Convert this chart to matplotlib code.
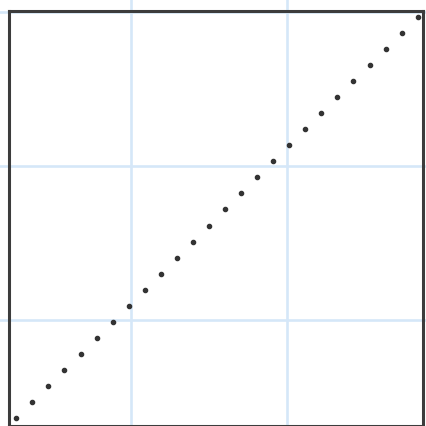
import matplotlib
matplotlib.use("Agg")
import matplotlib.pyplot as plt
import numpy as np

# data
x_values = list(range(26))
y_values = list(range(26))
grid_x = [7.14, 16.86]
grid_y = [6.1, 15.72, 25.33]

fig = plt.figure(figsize=(4.26, 4.26), dpi=100)
W = 426.0
left_px, right_px, top_px, bottom_px = 9.3, 423.0, 11.3, 425.5
ax = fig.add_axes([left_px / W, (W - bottom_px) / W,
                   (right_px - left_px) / W, (bottom_px - top_px) / W])

ax.set_xlim(-0.436, 25.33)
ax.set_ylim(-0.487, 25.375)

grid_color = "#d5e7f8"
for gx in grid_x:
    ax.axvline(gx, ymin=-1, ymax=2, clip_on=False, color=grid_color, lw=1.9, zorder=0)
for gy in grid_y:
    ax.axhline(gy, xmin=-1, xmax=2, clip_on=False, color=grid_color, lw=1.9, zorder=0)

ax.plot(x_values, y_values, linestyle="none", marker="o", markersize=3.0,
        color="#333333", zorder=3)

for s in ax.spines.values():
    s.set_linewidth(2.2)
    s.set_color("#3c3c3c")
    s.set_zorder(5)
ax.set_xticks([])
ax.set_yticks([])
ax.patch.set_alpha(0)

fig.savefig("out.png", dpi=100)
